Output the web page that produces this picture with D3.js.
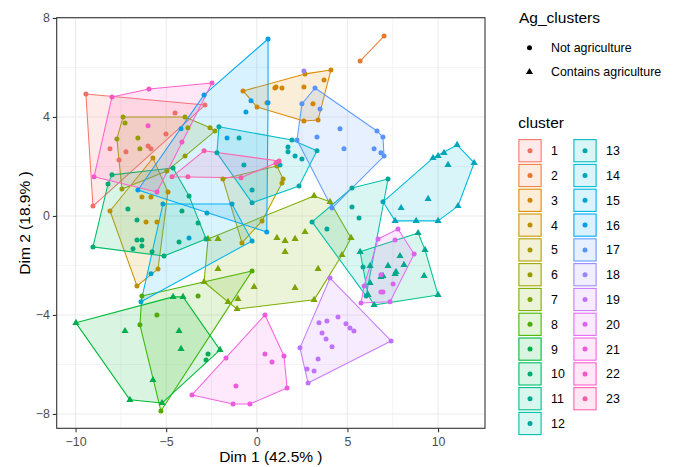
<!DOCTYPE html>
<html>
<head>
<meta charset="utf-8">
<script src="https://cdn.jsdelivr.net/npm/d3@7"></script>
<style>
  body { margin: 0; background: #fff; }
  text { font-family: "Liberation Sans", Arial, sans-serif; }
</style>
</head>
<body>
<svg width="680" height="467"></svg>
<script>
// points per cluster: [Dim 1, Dim 2, ag]  (ag 1 = contains agriculture)
var cl1 = [[-9.43,4.93,0],[-2.86,4.48,0],[-9.04,0.40,0],[-4.51,4.16,0],[-5.01,3.31,0],[-8.10,2.71,0],[-7.22,2.59,0],[-5.84,2.71,0],[-6.00,2.83,0],[-7.60,2.26,0]];
var cl2 = [[5.70,6.26,0],[7.02,7.27,0]];
var cl3 = [[-0.76,5.05,0],[0.01,4.40,0],[0.56,4.57,0],[1.06,5.21,0],[4.09,5.90,0],[2.66,5.74,0],[3.71,5.49,0],[1.00,5.17,0],[1.39,5.17,0],[2.60,5.21,0],[3.10,4.53,0],[2.60,3.84,0],[3.38,3.88,0]];
var cl4 = [[-5.73,2.34,0],[-8.10,0.20,0],[-6.61,-2.83,0],[-5.45,-2.14,0],[-4.90,0.97,0],[-6.34,0.77,0],[-5.84,0.77,0],[-6.11,-0.24,0],[-5.51,-0.24,0]];
var cl5 = [[-1.87,1.49,0],[1.11,2.02,0],[1.45,1.49,0],[1.39,1.33,0],[0.29,-0.20,0],[-0.82,-1.09,0]];
var cl6 = [[-7.38,4.00,0],[-7.27,3.76,0],[-7.72,3.11,0],[-7.44,1.09,0],[-4.96,1.82,0],[-3.96,2.42,0],[-2.31,3.43,0],[-2.58,3.56,0],[-3.96,4.00,0],[-6.56,3.15,0],[-6.45,2.71,0],[-3.80,3.56,0]];
var cl7 = [[-2.69,-0.93,1],[-2.91,-2.67,1],[-1.09,-3.76,1],[3.16,-3.39,1],[5.20,-0.89,1],[4.04,0.57,1],[3.16,0.81,1],[-2.14,-0.93,1],[1.11,-0.89,1],[-2.14,-2.14,1],[-0.15,-2.87,1],[-1.59,-3.47,1],[-1.04,-3.35,1],[1.56,-1.01,1],[1.56,-1.45,1],[2.11,-0.93,1],[2.66,-0.65,1],[4.70,-1.58,1],[3.38,-2.14,1],[2.11,-2.91,1]];
var cl8 = [[-6.34,-3.23,0],[-0.26,-2.22,0],[-5.29,-7.88,0],[-6.45,-4.40,0],[-5.51,-4.00,0],[-3.24,-3.23,0]];
var cl9 = [[-9.98,-4.32,1],[-4.62,-3.27,1],[-4.07,-3.27,1],[-2.03,-5.41,1],[-5.23,-7.56,1],[-7.00,-7.43,1],[-7.27,-4.65,1],[-5.73,-6.63,1],[-4.29,-4.65,1],[-4.18,-5.37,1],[-2.69,-5.58,0],[-2.80,-5.82,0]];
var cl10 = [[-7.99,1.66,0],[-4.62,1.94,0],[-3.74,0.81,0],[-3.24,-0.28,0],[-2.80,-0.93,0],[-5.12,-1.62,0],[-9.04,-1.25,0],[-8.21,1.29,0],[-7.11,0.28,0],[-6.61,-0.16,0],[-6.61,-0.97,0],[-6.34,-0.97,0],[-6.83,-1.33,0],[-6.34,-1.21,0],[-5.78,-1.45,0],[-4.29,-1.05,0],[-4.13,0.20,0]];
var cl11 = [[5.70,-1.45,1],[8.90,-0.69,1],[9.28,-1.37,1],[10.00,-3.19,1],[6.47,-3.60,1],[6.25,-2.02,1],[6.25,-2.71,1],[6.85,-2.46,1],[7.90,-1.62,1],[7.24,-2.02,1],[8.12,-1.98,1],[7.63,-2.34,1],[7.68,-2.26,1],[6.96,-2.42,1],[9.23,-2.42,1],[6.14,-3.19,1]];
var cl12 = [[3.05,-0.24,0],[3.87,-0.53,0],[5.25,1.13,0],[5.64,-0.08,0],[5.25,0.36,0],[7.24,1.49,0],[5.86,-2.06,0],[6.03,-3.23,0]];
var cl13 = [[-2.09,3.60,0],[-0.98,3.15,0],[-2.20,2.55,0],[-0.71,2.06,0],[-0.26,1.05,0],[-0.26,0.53,0],[1.94,3.07,0],[1.72,2.79,0],[1.72,2.59,0],[2.11,2.42,0],[2.49,2.30,0],[3.32,2.63,0],[1.28,2.06,0],[2.33,1.21,0]];
var cl14 = [[6.96,0.57,0],[7.63,-0.20,1],[8.79,-0.20,1],[10.00,-0.20,1],[11.10,0.40,1],[11.99,2.14,1],[11.05,2.87,1],[10.33,2.55,1],[10.00,2.42,1],[9.72,2.34,1],[10.55,2.06,1],[9.45,0.69,1],[7.96,0.32,1]];
var cl15 = [[-5.18,0.48,0],[-1.37,0.48,0],[-0.26,-1.01,0],[-6.39,-3.47,0],[-5.84,-2.34,0],[-3.74,-0.89,0],[-2.75,0.12,0]];
var cl16 = [[0.62,7.15,0],[-2.91,4.89,0],[-6.56,1.05,0],[0.55,-0.65,0],[-0.32,4.65,0],[0.62,4.57,0],[-0.60,4.20,0],[-4.18,3.52,0],[-1.64,3.15,0]];
var cl17 = [[3.21,5.17,0],[2.49,4.53,0],[3.49,4.32,0],[6.63,3.43,0],[6.96,3.19,0],[4.59,3.52,0],[3.32,3.19,0],[2.22,3.07,0],[4.81,2.71,0],[6.47,2.71,0],[6.85,2.55,0],[7.02,2.42,0],[4.15,0.32,0]];
var cl18 = [[2.60,5.86,0]];
var cl19 = [[4.04,-2.51,0],[2.38,-5.33,0],[2.83,-6.75,0],[7.41,-5.05,0],[4.48,-4.08,0],[3.43,-4.32,0],[3.87,-4.24,0],[4.92,-4.36,0],[5.14,-4.53,0],[5.36,-4.65,0],[3.60,-4.73,0],[3.82,-4.97,0],[4.15,-5.29,0],[3.38,-5.78,0],[2.77,-6.18,0],[3.16,-6.26,0]];
var cl20 = [[7.79,-0.53,0],[8.68,-1.54,0],[7.35,-3.47,0],[5.75,-3.52,0],[6.69,-0.93,0],[7.63,-0.97,0],[7.52,-2.75,0],[6.96,-3.07,0],[5.92,-2.83,0],[6.85,-3.07,0],[6.85,-2.38,0]];
var cl21 = [[0.45,-4.00,0],[1.50,-5.66,0],[1.67,-6.95,0],[-0.38,-7.60,0],[-1.31,-7.60,0],[-3.58,-7.23,0],[-1.70,-5.74,0],[0.45,-5.58,0],[0.84,-5.90,0],[-1.15,-6.87,0]];
var cl22 = [[-7.99,4.81,0],[-5.95,5.13,0],[-2.47,5.37,0],[-5.51,0.97,0],[-8.98,1.58,0],[-4.13,2.99,0],[-6.00,3.64,0]];
var cl23 = [[-2.91,2.63,0],[1.23,2.22,0],[-0.87,1.54,0],[-4.68,1.58,0],[-3.80,1.58,0],[1.06,2.14,0]];

var clusters = [cl1,cl2,cl3,cl4,cl5,cl6,cl7,cl8,cl9,cl10,cl11,cl12,cl13,cl14,cl15,cl16,cl17,cl18,cl19,cl20,cl21,cl22,cl23];
var clusterNames = d3.range(1, 24).map(String);
var agLabels = ["Not agriculture", "Contains agriculture"];
var xTicks = [-10, -5, 0, 5, 10];
var yTicks = [-8, -4, 0, 4, 8];
var xMinor = [-7.5, -2.5, 2.5, 7.5];
var yMinor = [-6, -2, 2, 6];

// ggplot-like hue palette (polar Luv)
function luv(L, C, H) {
  var h = H * Math.PI / 180, u = C * Math.cos(h), v = C * Math.sin(h);
  var Xn = 95.047, Yn = 100, Zn = 108.883;
  var den = Xn + 15 * Yn + 3 * Zn, un = 4 * Xn / den, vn = 9 * Yn / den;
  var Y = Yn * (L > 8 ? Math.pow((L + 16) / 116, 3) : L / 903.3);
  var up = u / (13 * L) + un, vp = v / (13 * L) + vn;
  var X = 9 * Y * up / (4 * vp), Z = Y * (12 - 3 * up - 20 * vp) / (4 * vp);
  X /= 100; Y /= 100; Z /= 100;
  return [3.240479 * X - 1.537150 * Y - 0.498535 * Z,
          -0.969256 * X + 1.875992 * Y + 0.041556 * Z,
          0.055648 * X - 0.204043 * Y + 1.057311 * Z];
}
function toHex(lin) {
  return d3.rgb.apply(null, lin.map(function(c) {
    var g = c <= 0.0031308 ? 12.92 * c : 1.055 * Math.pow(c, 1 / 2.4) - 0.055;
    return Math.round(255 * Math.max(0, Math.min(1, g)));
  })).formatHex();
}
var hues = clusterNames.map(function(d, i) { return 15 + i * 360 / 24; });
var lineCol = hues.map(function(h) { return toHex(luv(65, 100, h)); });
var pointCol = hues.map(function(h) {
  var lo = 0, hi = 100;
  for (var k = 0; k < 30; k++) {
    var m = (lo + hi) / 2, c = luv(62, m, h);
    if (c.every(function(v) { return v >= 0 && v <= 1; })) lo = m; else hi = m;
  }
  return toHex(luv(62, lo, h));
});
var fillAlpha = 0.15;

var svg = d3.select("svg");
var panel = {left: 56.7, right: 485, top: 17.7, bottom: 428.3};

var x = d3.scaleLinear().domain([-11.04, 12.59]).range([panel.left, panel.right]);
var y = d3.scaleLinear().domain([-8.58, 8.01]).range([panel.bottom, panel.top]);

var minus = function(d) { return d < 0 ? "\u2212" + Math.abs(d) : String(d); };

// grid
var grid = svg.append("g");
grid.selectAll(".xm").data(xMinor).enter().append("line")
  .attr("x1", x).attr("x2", x).attr("y1", panel.top).attr("y2", panel.bottom)
  .attr("stroke", "#ebebeb").attr("stroke-width", 0.55);
grid.selectAll(".ym").data(yMinor).enter().append("line")
  .attr("y1", y).attr("y2", y).attr("x1", panel.left).attr("x2", panel.right)
  .attr("stroke", "#ebebeb").attr("stroke-width", 0.55);
grid.selectAll(".xM").data(xTicks).enter().append("line")
  .attr("x1", x).attr("x2", x).attr("y1", panel.top).attr("y2", panel.bottom)
  .attr("stroke", "#ebebeb").attr("stroke-width", 1.1);
grid.selectAll(".yM").data(yTicks).enter().append("line")
  .attr("y1", y).attr("y2", y).attr("x1", panel.left).attr("x2", panel.right)
  .attr("stroke", "#ebebeb").attr("stroke-width", 1.1);

// hulls
var hullG = svg.append("g");
clusters.forEach(function(pts, i) {
  var xy = pts.map(function(p) { return [x(p[0]), y(p[1])]; });
  if (xy.length >= 3) {
    var hull = d3.polygonHull(xy);
    hullG.append("path")
      .attr("d", "M" + hull.join("L") + "Z")
      .attr("fill", lineCol[i]).attr("fill-opacity", fillAlpha)
      .attr("stroke", lineCol[i]).attr("stroke-width", 1.05)
      .attr("stroke-linejoin", "round");
  } else if (xy.length == 2) {
    hullG.append("path")
      .attr("d", "M" + xy.join("L"))
      .attr("fill", "none")
      .attr("stroke", lineCol[i]).attr("stroke-width", 1.05);
  }
});

// points
var tri = d3.symbol().type(d3.symbolTriangle).size(22);
var ptG = svg.append("g");
clusters.forEach(function(pts, i) {
  pts.forEach(function(p) {
    if (p[2] == 1) {
      ptG.append("path").attr("d", tri())
        .attr("transform", "translate(" + x(p[0]) + "," + y(p[1]) + ")")
        .attr("fill", pointCol[i]);
    } else {
      ptG.append("circle").attr("cx", x(p[0])).attr("cy", y(p[1])).attr("r", 2.5)
        .attr("fill", pointCol[i]);
    }
  });
});

// panel border
svg.append("rect")
  .attr("x", panel.left).attr("y", panel.top)
  .attr("width", panel.right - panel.left).attr("height", panel.bottom - panel.top)
  .attr("fill", "none").attr("stroke", "#333333").attr("stroke-width", 1.1);

// axes
var xAxis = svg.append("g")
  .attr("transform", "translate(0," + panel.bottom + ")")
  .call(d3.axisBottom(x).tickValues(xTicks).tickFormat(minus).tickSize(3.9).tickPadding(5.2));
var yAxis = svg.append("g")
  .attr("transform", "translate(" + panel.left + ",0)")
  .call(d3.axisLeft(y).tickValues(yTicks).tickFormat(minus).tickSize(3.9).tickPadding(2.8));
[xAxis, yAxis].forEach(function(a) {
  a.select(".domain").remove();
  a.selectAll(".tick line").attr("stroke", "#333333").attr("stroke-width", 1.1);
  a.selectAll(".tick text").attr("fill", "#4d4d4d").style("font-size", "12.4px")
    .style("font-family", "'Liberation Sans', Arial, sans-serif");
});

svg.append("text")
  .attr("x", (panel.left + panel.right) / 2).attr("y", 462)
  .attr("text-anchor", "middle").style("font-size", "15.5px")
  .text("Dim 1 (42.5% )");
svg.append("text")
  .attr("transform", "translate(29.5," + ((panel.top + panel.bottom) / 2) + ") rotate(-90)")
  .attr("text-anchor", "middle").style("font-size", "15.5px")
  .text("Dim 2 (18.9% )");

// legend: Ag_clusters
var lg1 = svg.append("g");
lg1.append("text").attr("x", 519).attr("y", 23.3).style("font-size", "15.5px").text("Ag_clusters");
agLabels.forEach(function(lab, j) {
  var cy = 47.7 + j * 24.3;
  if (j == 0) {
    lg1.append("circle").attr("cx", 529.5).attr("cy", cy).attr("r", 2.5).attr("fill", "#000");
  } else {
    lg1.append("path").attr("d", tri()).attr("transform", "translate(529.5," + cy + ")").attr("fill", "#000");
  }
  lg1.append("text").attr("x", 551).attr("y", cy).attr("dy", "0.36em")
    .style("font-size", "12.4px").text(lab);
});

// legend: cluster
var lg2 = svg.append("g");
lg2.append("text").attr("x", 518.3).attr("y", 128.3).style("font-size", "15.5px").text("cluster");
clusterNames.forEach(function(name, i) {
  var col = i < 12 ? 0 : 1, row = i < 12 ? i : i - 12;
  var kx = col == 0 ? 518.3 : 573.3;
  var ky = 139 + row * 24.8;
  lg2.append("rect").attr("x", kx + 0.6).attr("y", ky + 0.6).attr("width", 22.2).attr("height", 22.2)
    .attr("fill", lineCol[i]).attr("fill-opacity", fillAlpha)
    .attr("stroke", lineCol[i]).attr("stroke-width", 1.1);
  lg2.append("circle").attr("cx", kx + 11.7).attr("cy", ky + 11.7).attr("r", 2.5).attr("fill", pointCol[i]);
  lg2.append("text").attr("x", col == 0 ? 551 : 606).attr("y", ky + 11.7).attr("dy", "0.36em")
    .style("font-size", "12.4px").text(name);
});
</script>
</body>
</html>
